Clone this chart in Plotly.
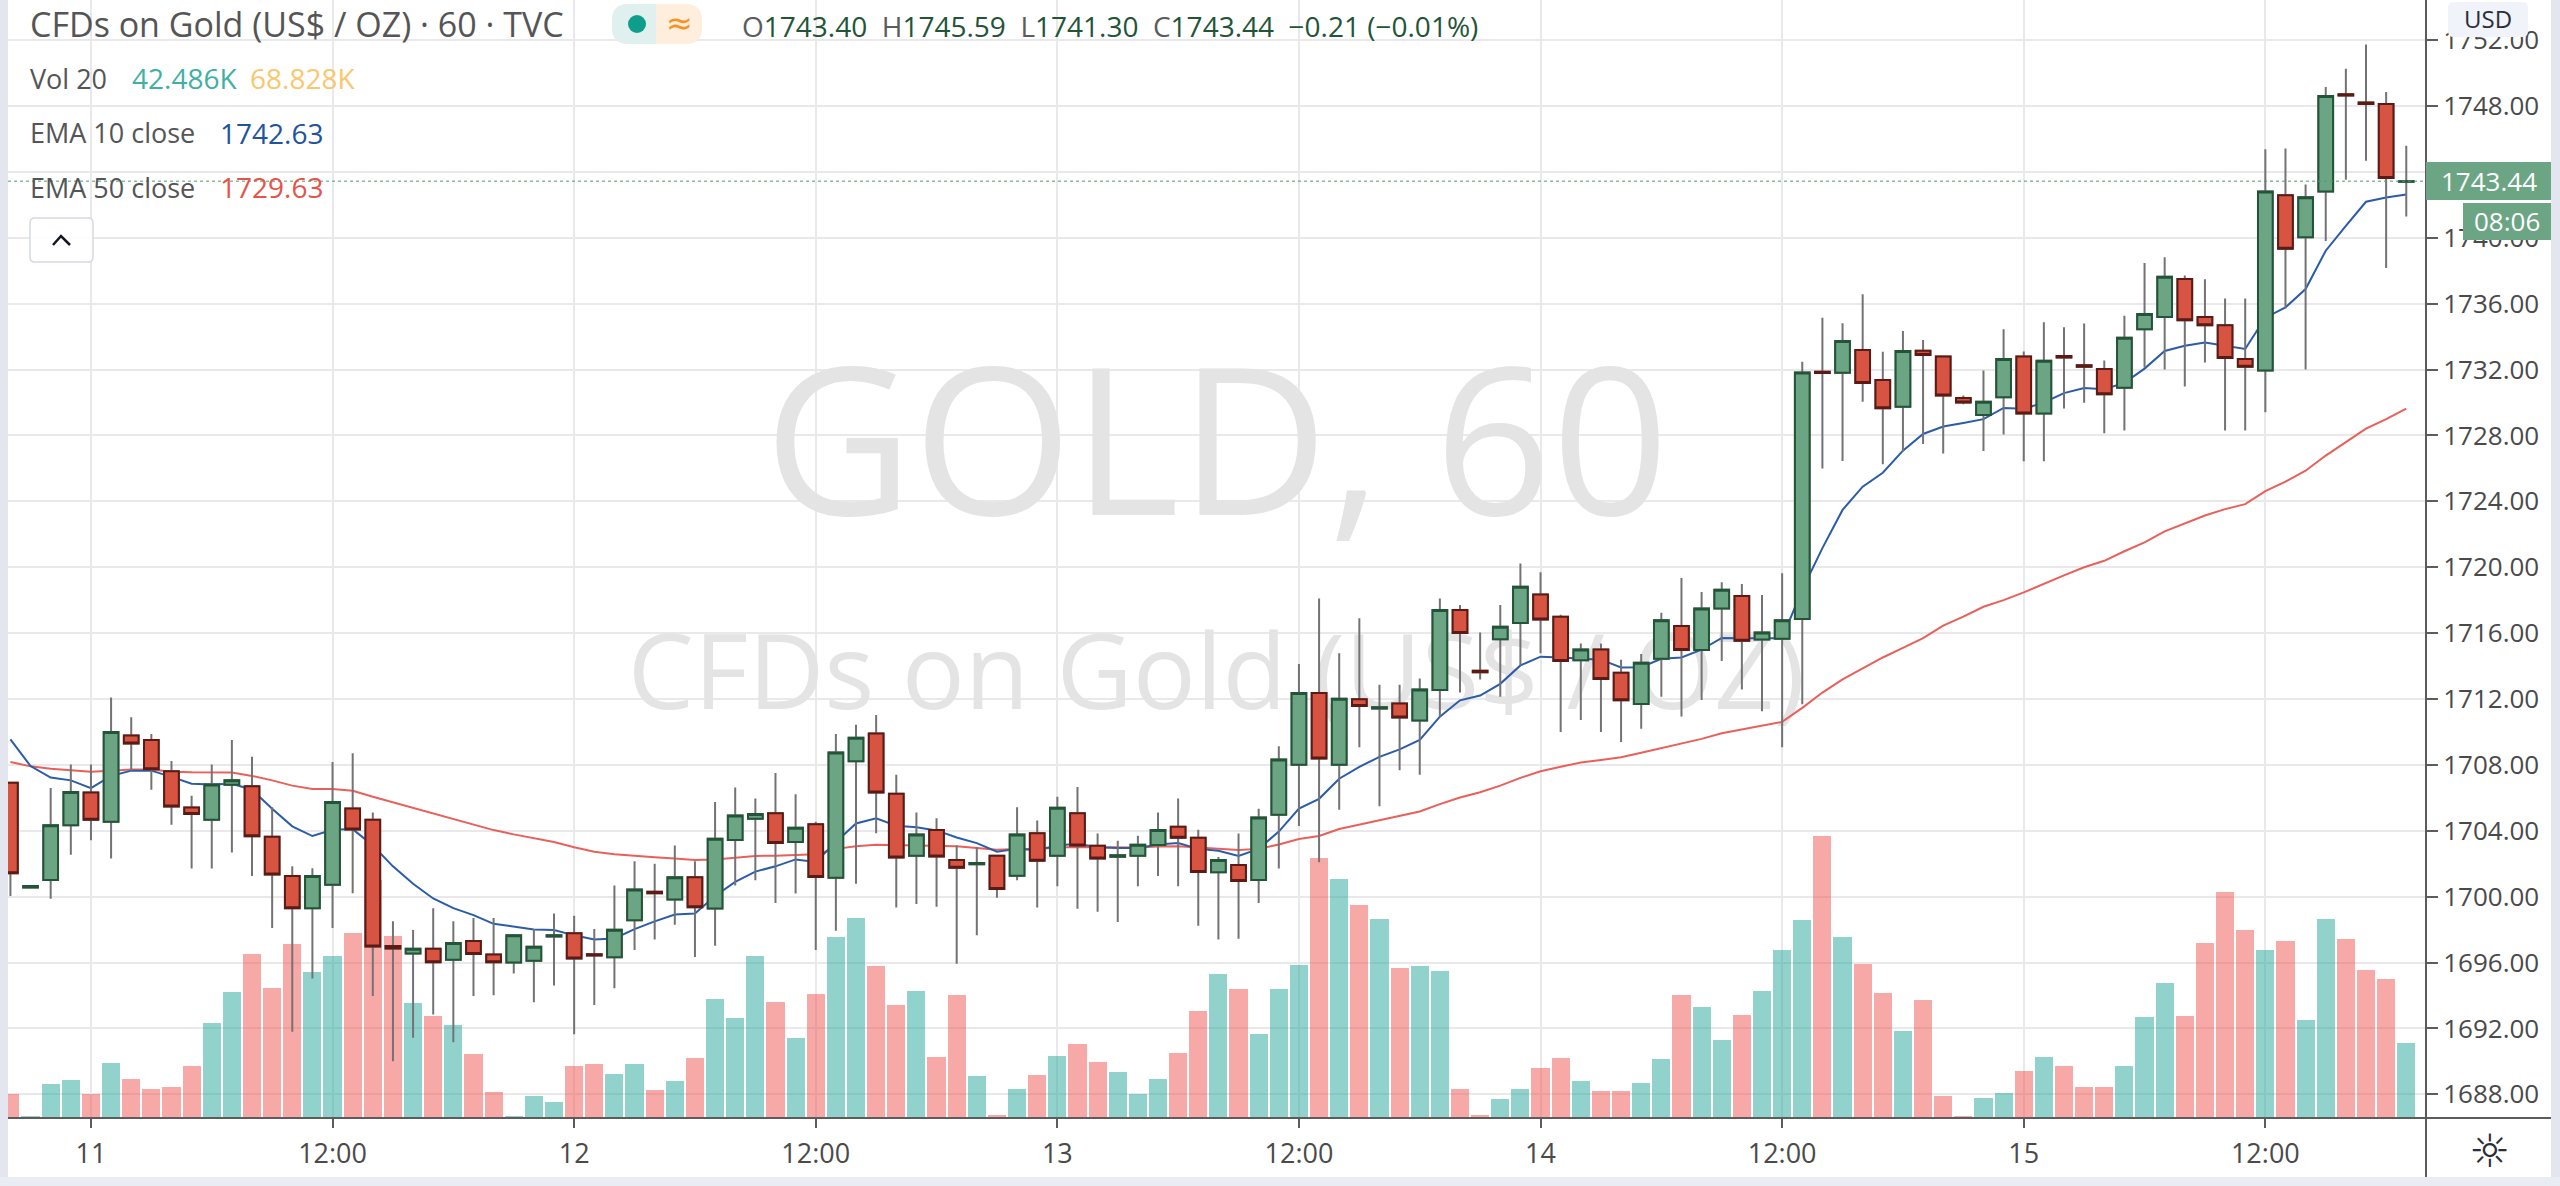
import plotly.graph_objects as go

# bar index, one bar per hour; tick labels sit on every 12th bar
tick_bars = [4, 16, 28, 40, 52, 64, 76, 88, 100, 112]
tick_labels = ['11', '12:00', '12', '12:00', '13', '12:00', '14', '12:00', '15', '12:00']

opens = [
    1706.91, 1700.55, 1701.01, 1704.33, 1706.32, 1704.54, 1709.79, 1709.51, 1707.61, 1705.41,
    1704.67, 1706.79, 1706.70, 1703.63, 1701.25, 1699.30, 1700.72, 1705.35, 1704.67, 1697.00,
    1696.55, 1696.83, 1696.17, 1697.31, 1696.49, 1696.00, 1696.11, 1697.58, 1697.78, 1696.50,
    1696.32, 1698.56, 1700.30, 1699.83, 1701.18, 1699.28, 1703.44, 1704.73, 1705.07, 1703.32,
    1704.40, 1701.14, 1708.22, 1709.91, 1706.24, 1702.49, 1704.04, 1702.22, 1701.97, 1702.49,
    1701.27, 1703.85, 1702.49, 1705.07, 1703.09, 1702.42, 1702.49, 1703.13, 1704.25, 1703.57,
    1701.48, 1701.92, 1701.01, 1704.97, 1708.01, 1712.37, 1708.01, 1711.99, 1711.42, 1711.73,
    1710.69, 1712.55, 1717.41, 1713.71, 1715.63, 1716.62, 1718.34, 1716.99, 1714.36, 1715.00,
    1713.59, 1711.70, 1714.44, 1716.43, 1714.97, 1717.49, 1718.26, 1715.61, 1715.66, 1716.86,
    1731.87, 1731.81, 1733.19, 1731.37, 1729.75, 1733.15, 1732.80, 1730.27, 1729.25, 1730.32,
    1732.80, 1729.34, 1732.82, 1732.26, 1732.04, 1730.90, 1734.45, 1735.20, 1737.50, 1735.20,
    1734.69, 1732.64, 1731.94, 1742.59, 1740.03, 1742.82, 1748.72, 1748.21, 1748.12, 1743.40,
]
closes = [
    1701.42, 1700.65, 1704.33, 1706.36, 1704.67, 1710.00, 1709.30, 1707.74, 1705.47, 1705.01,
    1706.81, 1707.06, 1703.66, 1701.35, 1699.30, 1701.25, 1705.75, 1704.08, 1696.98, 1696.85,
    1696.83, 1696.02, 1697.19, 1696.51, 1696.02, 1697.65, 1696.95, 1697.66, 1696.24, 1696.42,
    1697.99, 1700.44, 1700.20, 1701.18, 1699.36, 1703.51, 1704.92, 1705.01, 1703.25, 1704.18,
    1701.20, 1708.75, 1709.64, 1706.32, 1702.37, 1703.78, 1702.43, 1701.75, 1702.05, 1700.46,
    1703.78, 1702.18, 1705.39, 1703.11, 1702.31, 1702.52, 1703.15, 1704.04, 1703.57, 1701.50,
    1702.22, 1700.95, 1704.80, 1708.33, 1712.37, 1708.38, 1712.02, 1711.57, 1711.50, 1710.88,
    1712.58, 1717.41, 1716.01, 1713.63, 1716.38, 1718.82, 1716.83, 1714.31, 1715.00, 1713.22,
    1711.92, 1714.20, 1716.78, 1714.97, 1717.49, 1718.64, 1715.53, 1716.03, 1716.78, 1731.83,
    1731.79, 1733.74, 1731.19, 1729.65, 1733.13, 1732.89, 1730.43, 1730.00, 1730.04, 1732.64,
    1729.34, 1732.53, 1732.74, 1732.18, 1730.50, 1733.94, 1735.38, 1737.64, 1734.99, 1734.69,
    1732.71, 1732.18, 1742.82, 1739.33, 1742.47, 1748.61, 1748.64, 1748.13, 1743.63, 1743.44,
]
highs = [
    1706.91, 1700.65, 1706.60, 1708.03, 1708.03, 1712.09, 1710.89, 1709.87, 1708.24, 1706.13,
    1708.03, 1709.51, 1708.50, 1705.43, 1701.84, 1701.73, 1708.18, 1708.71, 1705.11, 1698.50,
    1697.97, 1699.30, 1698.50, 1698.71, 1698.71, 1697.65, 1698.03, 1698.98, 1698.84, 1698.03,
    1700.67, 1702.15, 1701.99, 1703.11, 1702.15, 1705.75, 1706.62, 1705.96, 1707.50, 1706.21,
    1704.54, 1709.87, 1710.44, 1711.03, 1707.40, 1705.11, 1704.76, 1703.11, 1703.00, 1702.49,
    1705.43, 1704.63, 1706.07, 1706.66, 1703.83, 1703.40, 1703.70, 1705.11, 1705.96, 1704.06,
    1702.40, 1703.83, 1705.33, 1709.13, 1714.12, 1718.10, 1714.78, 1716.91, 1712.87, 1712.87,
    1713.24, 1718.10, 1717.71, 1716.03, 1717.71, 1720.23, 1719.70, 1717.12, 1715.37, 1715.37,
    1714.39, 1714.73, 1717.23, 1719.35, 1718.50, 1719.09, 1718.98, 1718.32, 1719.64, 1732.48,
    1735.15, 1734.81, 1736.57, 1733.09, 1734.34, 1733.80, 1732.80, 1730.43, 1731.94, 1734.45,
    1733.10, 1734.87, 1734.57, 1734.80, 1732.55, 1735.27, 1738.47, 1738.82, 1737.71, 1737.48,
    1736.31, 1736.31, 1745.38, 1745.42, 1743.24, 1749.16, 1750.26, 1751.74, 1748.86, 1745.59,
]
lows = [
    1700.04, 1700.55, 1699.87, 1702.54, 1703.42, 1702.32, 1707.65, 1706.49, 1704.37, 1701.71,
    1701.71, 1702.68, 1701.25, 1698.10, 1691.80, 1695.03, 1698.10, 1700.21, 1693.97, 1690.00,
    1691.44, 1692.85, 1691.16, 1693.97, 1694.02, 1695.33, 1693.59, 1694.61, 1691.65, 1693.42,
    1694.44, 1696.76, 1697.40, 1698.29, 1696.34, 1697.02, 1700.68, 1700.99, 1699.62, 1700.19,
    1696.76, 1697.93, 1700.78, 1703.85, 1699.34, 1699.55, 1699.39, 1695.92, 1697.65, 1699.94,
    1700.99, 1699.34, 1700.63, 1699.26, 1699.09, 1698.46, 1700.63, 1701.25, 1700.63, 1698.24,
    1697.40, 1697.44, 1699.62, 1701.71, 1704.29, 1702.09, 1705.28, 1709.07, 1705.49, 1707.67,
    1707.40, 1710.93, 1712.39, 1713.19, 1712.13, 1714.04, 1714.78, 1710.00, 1710.72, 1710.00,
    1709.39, 1710.19, 1712.13, 1710.93, 1711.94, 1714.31, 1712.58, 1711.25, 1709.07, 1711.68,
    1726.00, 1726.45, 1730.05, 1726.25, 1727.02, 1727.48, 1726.90, 1729.90, 1727.06, 1728.06,
    1726.44, 1726.44, 1729.64, 1729.99, 1728.13, 1728.30, 1732.13, 1732.00, 1730.97, 1732.43,
    1728.30, 1728.30, 1729.41, 1735.73, 1732.00, 1739.80, 1743.52, 1744.68, 1738.17, 1741.30,
]
ema10 = [
    1709.55, 1707.93, 1707.23, 1707.06, 1706.59, 1707.33, 1707.65, 1707.65, 1707.27, 1706.85,
    1706.81, 1706.85, 1706.49, 1705.33, 1704.27, 1703.68, 1704.06, 1704.10, 1703.10, 1701.84,
    1700.78, 1699.89, 1699.30, 1698.88, 1698.35, 1698.20, 1698.01, 1697.97, 1697.65, 1697.40,
    1697.46, 1698.03, 1698.50, 1698.92, 1698.98, 1700.04, 1700.89, 1701.52, 1701.84, 1702.26,
    1702.11, 1703.32, 1704.44, 1704.76, 1704.31, 1704.21, 1704.02, 1703.59, 1703.25, 1702.73,
    1702.90, 1702.83, 1703.11, 1703.21, 1703.00, 1702.96, 1702.96, 1703.17, 1703.25, 1702.90,
    1702.79, 1702.47, 1702.90, 1703.95, 1705.35, 1705.94, 1707.16, 1707.88, 1708.49, 1708.94,
    1709.52, 1710.93, 1711.92, 1712.21, 1712.92, 1714.04, 1714.57, 1714.52, 1714.47, 1714.39,
    1713.91, 1713.93, 1714.44, 1714.52, 1715.00, 1715.71, 1715.69, 1715.69, 1715.69, 1718.64,
    1721.16, 1723.48, 1724.89, 1725.74, 1727.08, 1728.09, 1728.54, 1728.76, 1728.99, 1729.67,
    1729.62, 1730.00, 1730.57, 1730.88, 1730.80, 1731.20, 1732.06, 1733.13, 1733.45, 1733.64,
    1733.45, 1733.25, 1735.15, 1735.78, 1736.89, 1739.22, 1740.73, 1742.19, 1742.45, 1742.63,
]
ema50 = [
    1708.18, 1707.91, 1707.76, 1707.69, 1707.59, 1707.65, 1707.72, 1707.72, 1707.59, 1707.55,
    1707.53, 1707.53, 1707.33, 1707.06, 1706.74, 1706.53, 1706.53, 1706.43, 1706.07, 1705.73,
    1705.39, 1705.05, 1704.69, 1704.37, 1704.04, 1703.78, 1703.53, 1703.32, 1703.00, 1702.73,
    1702.58, 1702.47, 1702.39, 1702.32, 1702.22, 1702.26, 1702.37, 1702.47, 1702.49, 1702.54,
    1702.58, 1702.90, 1703.06, 1703.15, 1703.13, 1703.11, 1703.11, 1703.06, 1702.96, 1702.85,
    1702.90, 1702.90, 1702.98, 1703.02, 1703.00, 1702.98, 1702.98, 1703.04, 1703.06, 1702.98,
    1702.90, 1702.83, 1702.90, 1703.17, 1703.50, 1703.68, 1704.11, 1704.37, 1704.64, 1704.90,
    1705.17, 1705.62, 1706.02, 1706.34, 1706.74, 1707.21, 1707.61, 1707.88, 1708.14, 1708.30,
    1708.46, 1708.73, 1709.02, 1709.29, 1709.58, 1709.92, 1710.14, 1710.35, 1710.61, 1711.46,
    1712.39, 1713.19, 1713.85, 1714.52, 1715.10, 1715.70, 1716.46, 1717.00, 1717.60, 1718.00,
    1718.47, 1719.00, 1719.51, 1720.00, 1720.39, 1720.97, 1721.51, 1722.18, 1722.67, 1723.14,
    1723.53, 1723.83, 1724.62, 1725.20, 1725.86, 1726.78, 1727.60, 1728.41, 1728.99, 1729.63,
]
# volume in thousands
volume = [
    13.8, 1.4, 19.3, 21.7, 13.6, 31.4, 22.3, 16.6, 17.8, 29.6,
    53.7, 71.3, 92.8, 73.8, 98.7, 82.9, 91.8, 105.0, 135.0, 103.0,
    64.9, 58.0, 52.7, 36.3, 14.8, 1.4, 12.2, 9.1, 29.6, 30.6,
    25.1, 30.6, 16.1, 21.1, 34.0, 67.5, 56.5, 91.8, 65.5, 45.4,
    70.1, 102.5, 113.3, 86.1, 63.8, 72.1, 34.3, 69.5, 23.7, 1.6,
    16.6, 24.5, 35.1, 41.7, 32.0, 26.1, 13.6, 22.3, 37.1, 60.6,
    81.5, 73.2, 47.4, 73.2, 86.7, 147.4, 135.3, 120.9, 112.5, 85.2,
    86.0, 83.3, 16.6, 1.7, 10.9, 16.6, 28.2, 33.9, 21.1, 15.1,
    15.1, 19.8, 33.2, 69.4, 62.9, 44.1, 58.5, 72.1, 95.4, 112.0,
    159.6, 102.8, 87.2, 70.6, 49.1, 66.7, 12.7, 1.3, 11.4, 14.0,
    26.9, 34.3, 29.4, 17.4, 17.4, 29.4, 57.4, 76.2, 58.0, 99.1,
    127.9, 106.3, 95.3, 100.3, 55.5, 113.0, 101.2, 84.0, 79.0, 42.486,
]
last_price = 1743.44

bars = list(range(len(opens)))
FONT = 'Open Sans'
PRICE_RANGE = [1686.56, 1754.44]
GRID = '#e9e9eb'
AXIS = '#5c5c5c'

# plot frame in page pixels
L, R, T, B = 8, 2426, 0, 1118


def sx(px):
    return (px - L) / (R - L)


def sy(py):
    return (B - py) / (B - T)


def box(x0, y0, x1, y1, fill, line=None):
    return dict(type='rect', xref='paper', yref='paper', x0=sx(x0), x1=sx(x1), y0=sy(y0), y1=sy(y1),
                fillcolor=fill, line=dict(width=1 if line else 0, color=line or fill))


def rounded(x0, y0, x1, y1, r_left, r_right, fill, line=None):
    # rounded rectangle as a path, radius can differ per side
    p = (f'M {sx(x0 + r_left)} {sy(y0)} L {sx(x1 - r_right)} {sy(y0)} '
         f'Q {sx(x1)} {sy(y0)} {sx(x1)} {sy(y0 + r_right)} L {sx(x1)} {sy(y1 - r_right)} '
         f'Q {sx(x1)} {sy(y1)} {sx(x1 - r_right)} {sy(y1)} L {sx(x0 + r_left)} {sy(y1)} '
         f'Q {sx(x0)} {sy(y1)} {sx(x0)} {sy(y1 - r_left)} L {sx(x0)} {sy(y0 + r_left)} '
         f'Q {sx(x0)} {sy(y0)} {sx(x0 + r_left)} {sy(y0)} Z')
    return dict(type='path', xref='paper', yref='paper', path=p, fillcolor=fill,
                line=dict(width=1.5 if line else 0, color=line or fill))


def label(px, py, text, size, color, anchor='left', family=FONT):
    return dict(xref='paper', yref='paper', x=sx(px), y=sy(py), text=text, showarrow=False,
                xanchor=anchor, yanchor='middle', font=dict(family=family, size=size, color=color),
                borderpad=0)


fig = go.Figure()

# watermark stays under everything, so it goes on the base axis
fig.add_trace(go.Scatter(
    x=[59.9, 59.9], y=[1726.3, 1713.0], mode='text', text=['GOLD, 60', 'CFDs on Gold (US$ / OZ)'],
    textposition='middle center', textfont=dict(family=FONT, size=[205, 105], color='#e4e4e4'),
    hoverinfo='skip', showlegend=False,
))

fig.add_trace(go.Bar(
    x=bars, y=volume, yaxis='y2', width=0.9,
    marker=dict(color=['rgba(38,166,154,0.5)' if c >= o else 'rgba(239,83,80,0.5)'
                       for o, c in zip(opens, closes)], line=dict(width=0)),
    showlegend=False,
))

fig.add_trace(go.Scatter(x=bars, y=ema50, yaxis='y3', mode='lines', line=dict(color='#e9605a', width=2), showlegend=False))
fig.add_trace(go.Scatter(x=bars, y=ema10, yaxis='y3', mode='lines', line=dict(color='#2a5ca8', width=2), showlegend=False))

# grey wicks first, then the bodies with their dark borders on top
fig.add_trace(go.Candlestick(
    x=bars, open=opens, high=highs, low=lows, close=closes, yaxis='y4',
    increasing=dict(line=dict(color='#737375', width=2), fillcolor='#6ba583'),
    decreasing=dict(line=dict(color='#737375', width=2), fillcolor='#d75442'),
    showlegend=False,
))
fig.add_trace(go.Candlestick(
    x=bars, open=opens, close=closes, yaxis='y4',
    high=[max(o, c) for o, c in zip(opens, closes)],
    low=[min(o, c) for o, c in zip(opens, closes)],
    increasing=dict(line=dict(color='#225437', width=2), fillcolor='#6ba583'),
    decreasing=dict(line=dict(color='#5b1a13', width=2), fillcolor='#d75442'),
    showlegend=False,
))

overlay = dict(overlaying='y', side='right', visible=False, showgrid=False, fixedrange=True)

shapes = [
    # current price line
    dict(type='line', xref='paper', x0=0, x1=1, yref='y', y0=last_price, y1=last_price,
         line=dict(color='#4f9a70', width=1, dash='dot')),
    # frame bands and axis lines
    box(0, 0, L, 1186, '#e3e6ef'),
    box(2551, 0, 2560, 1186, '#e3e6ef'),
    box(0, 1177, 2560, 1186, '#e9ecf3'),
    dict(type='line', xref='paper', yref='paper', x0=sx(R), x1=sx(R), y0=sy(0), y1=sy(1177),
         line=dict(color=AXIS, width=2)),
    dict(type='line', xref='paper', yref='paper', x0=sx(L), x1=sx(2551), y0=sy(B), y1=sy(B),
         line=dict(color=AXIS, width=2)),
    # price and countdown tags, currency button
    box(R, 162, 2551, 200, '#6ba583'),
    box(2463, 203, 2551, 240, '#6ba583'),
    rounded(2448, 2, 2528, 37, 6, 6, '#f0f3fa'),
    # status pill
    rounded(612, 4, 656, 44, 16, 0, '#dff0ee'),
    rounded(656, 4, 702, 44, 0, 16, '#fdeedd'),
    dict(type='circle', xref='paper', yref='paper', x0=sx(628), x1=sx(646), y0=sy(15), y1=sy(33),
         fillcolor='#0f9d8c', line=dict(width=0)),
    # collapse button
    rounded(30, 218, 93, 262, 5, 5, 'rgba(255,255,255,0.9)', '#d6d9e2'),
    dict(type='path', xref='paper', yref='paper', line=dict(color='#131722', width=2.5),
         path=f'M {sx(53)} {sy(245)} L {sx(61)} {sy(236)} L {sx(70)} {sy(245)}'),
]

annotations = [
    label(29, 24, 'CFDs on Gold (US$ / OZ) · 60 · TVC', 34, '#555555'),
    label(679, 23, '≈', 32, '#f7931e', 'center', 'DejaVu Sans'),
    label(741, 26, ''.join(f'<span style="color:#5c5c5c">{k}</span>{v}  ' for k, v in
                           [('O', '1743.40'), ('H', '1745.59'), ('L', '1741.30'), ('C', '1743.44')])
          + '−0.21 (−0.01%)', 28, '#225437'),
    label(29, 78, 'Vol 20', 27, '#555555'),
    label(131, 78, '42.486K', 28, '#3fb0a3'),
    label(249, 78, '68.828K', 28, '#f9c76d'),
    label(29, 133, 'EMA 10 close', 27, '#555555'),
    label(219, 133, '1742.63', 28, '#21549e'),
    label(29, 187, 'EMA 50 close', 27, '#555555'),
    label(219, 187, '1729.63', 28, '#e5534b'),
    label(2489, 181, '1743.44', 26, '#ffffff', 'center'),
    label(2507, 221, '08:06', 26, '#ffffff', 'center'),
    label(2488, 19, 'USD', 24, '#2a2e39', 'center'),
    label(2489, 1151, '☼', 46, '#2a2e39', 'center', 'DejaVu Sans'),
]

fig.update_layout(
    width=2560, height=1186,
    margin=dict(l=L, r=2560 - R, t=T, b=1186 - B, autoexpand=False),
    paper_bgcolor='white', plot_bgcolor='white',
    showlegend=False, bargap=0, barmode='overlay', hovermode=False,
    boxgap=0.27, boxgroupgap=0,
    font=dict(family=FONT, color='#4a4a4a'),
    xaxis=dict(range=[-0.12, 119.98], tickvals=tick_bars, ticktext=tick_labels, showgrid=True, gridcolor=GRID,
               gridwidth=2, zeroline=False, ticks='outside', ticklen=9, tickwidth=2, tickcolor=AXIS,
               tickfont=dict(size=27, color='#4a4a4a'), ticklabelstandoff=3, rangeslider=dict(visible=False),
               showline=False),
    yaxis=dict(range=PRICE_RANGE, side='right', tick0=1688, dtick=4, tickformat='.2f', showgrid=True, gridcolor=GRID,
               gridwidth=2, zeroline=False, ticks='outside', ticklen=11, tickwidth=2, tickcolor=AXIS,
               tickfont=dict(size=26, color='#4a4a4a'), showline=False),
    yaxis2=dict(range=[0, 633.3], **overlay),
    yaxis3=dict(range=PRICE_RANGE, **overlay),
    yaxis4=dict(range=PRICE_RANGE, **overlay),
    shapes=shapes, annotations=annotations,
)

fig.write_html('out.html', config=dict(displayModeBar=False),
               post_script="document.body.style.margin='0';document.body.style.overflow='hidden';")
